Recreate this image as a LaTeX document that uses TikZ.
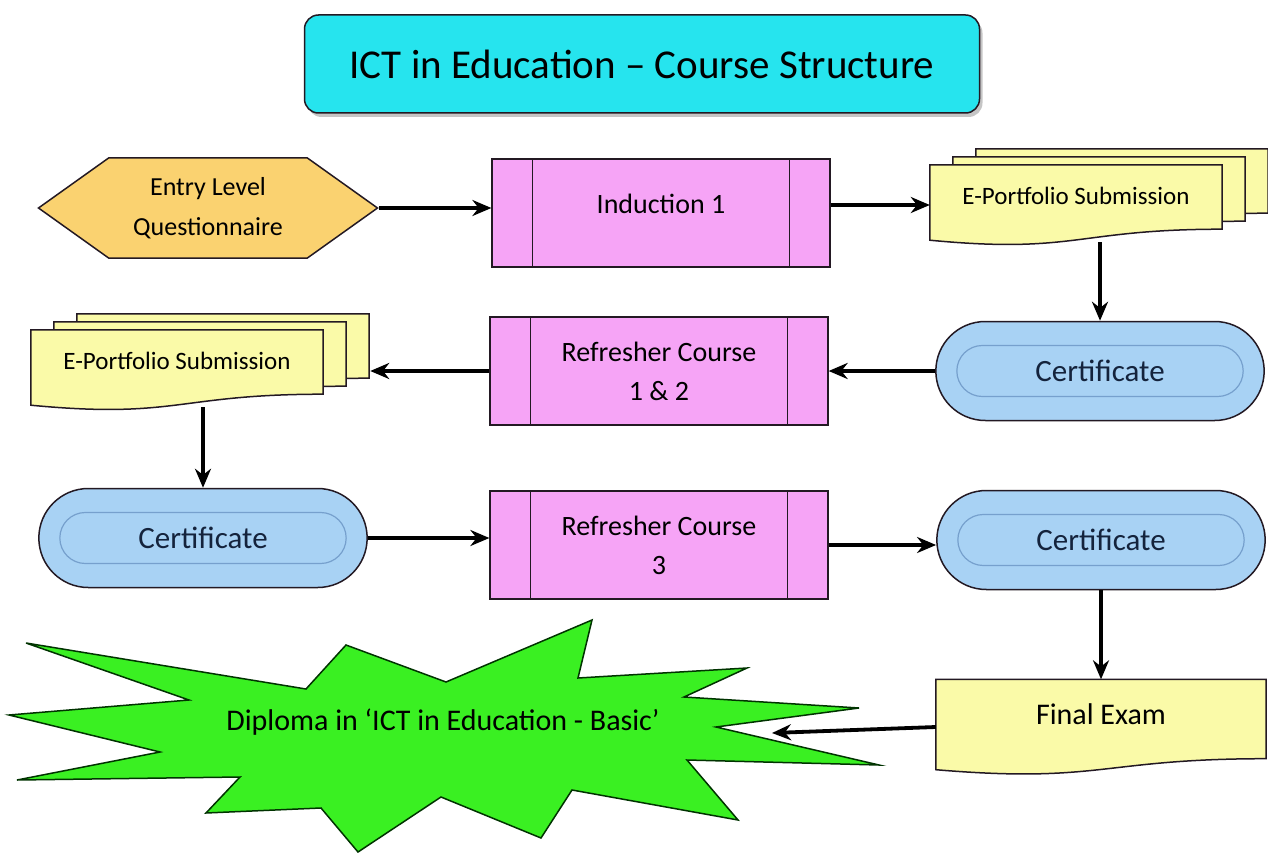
\documentclass[tikz,border=0pt]{standalone}
\usepackage{fontspec}
\setmainfont{Carlito}
\usetikzlibrary{arrows.meta,shapes.symbols,shapes.misc,shadows}

\definecolor{titlecyan}{RGB}{38,228,238}
\definecolor{entrygold}{RGB}{250,210,112}
\definecolor{procpink}{RGB}{246,164,246}
\definecolor{docyellow}{RGB}{250,250,168}
\definecolor{certblue}{RGB}{168,210,244}
\definecolor{certline}{RGB}{118,160,205}
\definecolor{diplomagreen}{RGB}{58,240,34}
\definecolor{darkink}{RGB}{35,25,35}
\definecolor{certink}{RGB}{20,35,60}

\pgfdeclarelayer{background}
\pgfsetlayers{background,main}

\begin{document}
\begin{tikzpicture}[x=1pt,y=-1pt,
    title/.style={rectangle,rounded corners=14pt,draw=darkink,line width=1.5pt,fill=titlecyan,
        minimum width=675pt,minimum height=98pt,font=\fontsize{41}{48}\selectfont,
        drop shadow={shadow xshift=3pt,shadow yshift=-4pt,fill=black!45}},
    entry/.style={signal,signal to=west and east,signal pointer angle=71,draw=darkink,line width=1.5pt,
        fill=entrygold,minimum width=339pt,minimum height=100pt,align=center,
        font=\fontsize{26}{40}\selectfont},
    process/.style={rectangle,draw=darkink,line width=1.2pt,fill=procpink,minimum width=338pt,
        minimum height=108pt,align=center,font=\fontsize{28}{39}\selectfont},
    portfolio/.style={rectangle,minimum width=292pt,minimum height=80pt,
        font=\fontsize{25}{30}\selectfont,text depth=18pt},
    exam/.style={rectangle,minimum width=330pt,minimum height=95pt,
        font=\fontsize{30}{36}\selectfont,text depth=26pt},
    docsheet/.style={draw=darkink,line width=1.5pt,fill=docyellow},
    certificate/.style={rounded rectangle,draw=darkink,line width=1.5pt,fill=certblue,
        minimum width=335pt,minimum height=99pt,text=certink,font=\fontsize{31}{36}\selectfont},
    certinner/.style={rounded rectangle,draw=certline,line width=1.2pt,minimum width=293pt,minimum height=51pt}]
\useasboundingbox (0,0) rectangle (1268,853);

% title and first row
\node[title] (title) at (642,64) {ICT in Education – Course Structure};
\node[entry] (entry) at (208,208) {Entry Level\\Questionnaire};
\node[process,text depth=18pt] (ind) at (661,213) {Induction 1};
\node[portfolio] (ep1) at (1076,205) {E-Portfolio Submission};

% second row
\node[certificate] (cert1) at (1100,371) {Certificate};
\node[process] (ref12) at (659,371) {Refresher Course\\1 \& 2};
\node[portfolio] (ep2) at (177,370) {E-Portfolio Submission};

% third row
\node[certificate] (cert2) at (203,538) {Certificate};
\node[process] (ref3) at (659,545) {Refresher Course\\3};
\node[certificate] (cert3) at (1101,540) {Certificate};

% last row
\node[exam] (exam) at (1101,727) {Final Exam};
\draw[fill=diplomagreen,draw=black!80!green,line width=1.5pt]
    (26,643) -- (306,689) -- (346,645) -- (446,682) -- (592,620) -- (578,678)
    -- (747,668) -- (684,697) -- (859,708) -- (716,727) -- (879,765) -- (687,760)
    -- (738,820) -- (572,790) -- (541,838) -- (441,797) -- (358,852) -- (321,808)
    -- (206,813) -- (240,777) -- (17,780) -- (160,752) -- (9,715) -- (189,700) -- cycle;
\node[font=\fontsize{30}{36}\selectfont] (dip) at (443,722) {Diploma in ‘ICT in Education - Basic’};
\coordinate (dipin) at (772,733);

% document sheets behind the texts
\begin{pgfonlayer}{background}
\foreach \d/\k in {ep1/2,ep2/2,exam/0}
    \foreach \s in {\k,...,0}
        \draw[docsheet] ([xshift=23*\s pt,yshift=8*\s pt]\d.north west)
            -- ([xshift=23*\s pt,yshift=8*\s pt]\d.north east)
            -- ([xshift=23*\s pt,yshift=8*\s pt+16pt]\d.south east)
            .. controls ([xshift=23*\s pt,yshift=8*\s pt+16pt]\d.south)
            and ([xshift=23*\s pt,yshift=8*\s pt-9pt]\d.south)
            .. ([xshift=23*\s pt,yshift=8*\s pt+5pt]\d.south west) -- cycle;
\end{pgfonlayer}

% inner lines
\foreach \p in {ind,ref12,ref3}
    \draw[line width=1.4pt,darkink] ([xshift=41pt]\p.north west) -- ([xshift=41pt]\p.south west)
        ([xshift=-41pt]\p.north east) -- ([xshift=-41pt]\p.south east);
\foreach \c in {cert1,cert2,cert3}
    \node[certinner] at (\c) {};
\coordinate (ep2back) at ([xshift=47pt]ep2.east);

\begin{scope}[>={Stealth[black,length=19pt,width=16pt]},
              every edge/.style={draw=black,line width=3.8pt}]
    \path [->] (entry.east) edge (entry.east -| ind.west);
    \path [->] (ind.east |- ep1.west) edge (ep1.west);
    \path [->] ([yshift=3pt]cert1.north |- ep1.south) edge (cert1.north);
    \path [->] (cert1.west) edge (cert1.west -| ref12.east);
    \path [->] (ref12.west) edge (ref12.west -| ep2back);
    \path [->] ([yshift=3pt]cert2.north |- ep2.south) edge (cert2.north);
    \path [->] (cert2.east) edge (cert2.east -| ref3.west);
    \path [->] (ref3.east) edge (ref3.east -| cert3.west);
    \path [->] (cert3.south) edge (cert3.south |- exam.north);
    \path [->] (exam.west) edge (dipin);
\end{scope}
\end{tikzpicture}
\end{document}
